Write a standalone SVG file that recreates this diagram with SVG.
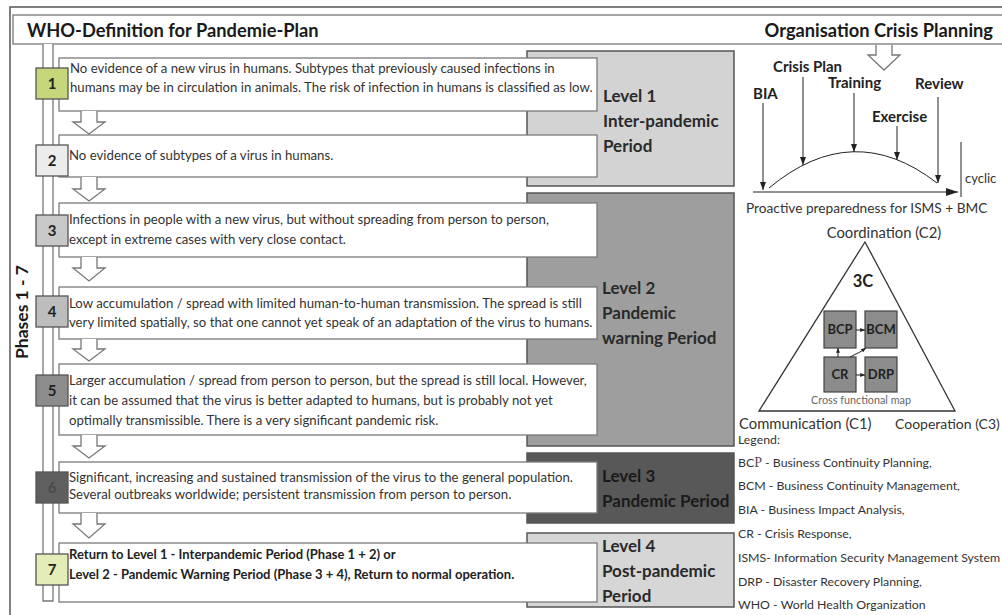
<svg xmlns="http://www.w3.org/2000/svg" width="1002" height="615" viewBox="0 0 1002 615">
<defs>
<style>
.frame{fill:none;stroke:#555;stroke-width:1.5}
.band{fill:#fff;stroke:#777;stroke-width:1.3}
.pipe{fill:#fff;stroke:#777;stroke-width:1.3}
.box{fill:#fff;stroke:#7a7a7a;stroke-width:1.3}
.sq{stroke:#555;stroke-width:1.3}
.lvl{stroke:#555;stroke-width:1.5}
.t{font-family:Lato,"Open Sans",sans-serif;font-size:13.2px;fill:#333}
.tb{font-family:Lato,"Open Sans",sans-serif;font-size:13px;font-weight:bold;fill:#222}
.num{font-family:Lato,"Open Sans",sans-serif;font-size:15px;font-weight:bold;fill:#222;text-anchor:middle}
.hd{font-family:Lato,"Open Sans",sans-serif;font-size:18.3px;font-weight:bold;fill:#1a1a1a}
.lv{font-family:Lato,"Open Sans",sans-serif;font-size:17px;font-weight:bold;fill:#2a2a2a}
.cp{font-family:Lato,"Open Sans",sans-serif;font-size:15px;font-weight:bold;fill:#222}
.rt{font-family:Lato,"Open Sans",sans-serif;font-size:14.8px;fill:#333}
.lg{font-family:Lato,"Open Sans",sans-serif;font-size:12.3px;fill:#333}
.blk{fill:#fff;stroke:#777;stroke-width:1.3}
.ln{fill:none;stroke:#222;stroke-width:1}
.c3{fill:#8c8c8c;stroke:#444;stroke-width:1.2}
.c3t{font-family:Lato,"Open Sans",sans-serif;font-size:13px;font-weight:bold;fill:#222;text-anchor:middle}
</style>
<marker id="ah" viewBox="0 0 8 6" refX="8" refY="3" markerWidth="8" markerHeight="6" markerUnits="userSpaceOnUse" orient="auto">
<path d="M0,0 L8,3 L0,6 z" fill="#222"/>
</marker>
<marker id="ahs" viewBox="0 0 6 5" refX="6" refY="2.5" markerWidth="5" markerHeight="4" markerUnits="userSpaceOnUse" orient="auto">
<path d="M0,0 L6,2.5 L0,5 z" fill="#222"/>
</marker>
<marker id="ahb" viewBox="0 0 12 8" refX="12" refY="4" markerWidth="12" markerHeight="8" markerUnits="userSpaceOnUse" orient="auto">
<path d="M0,0 L12,4 L0,8 z" fill="#222"/>
</marker>
</defs>
<rect width="1002" height="615" fill="#fff"/>

<g id="frame">
<path class="frame" d="M10,615 V7 H1002"/>
<rect class="band" x="13" y="15" width="1000" height="29"/>
<text class="hd" x="27" y="37">WHO-Definition for Pandemie-Plan</text>
<text class="hd" x="993" y="37" text-anchor="end">Organisation Crisis Planning</text>
<path class="pipe" d="M43,44 V601 H53 V44"/>
<text x="28" y="312" transform="rotate(-90 28 312)" class="hd" style="font-size:17.5px" text-anchor="middle">Phases 1 - 7</text>
</g>

<g id="levels">
<g id="level1"><rect class="lvl" x="527" y="51" width="207" height="135" fill="#d3d3d3"/>
<text class="lv" x="603" y="102">Level 1</text><text class="lv" x="603" y="127">Inter-pandemic</text><text class="lv" x="603" y="152">Period</text></g>
<g id="level2"><rect class="lvl" x="527" y="193" width="207" height="253" fill="#9e9e9e"/>
<text class="lv" x="602" y="294">Level 2</text><text class="lv" x="602" y="319">Pandemic</text><text class="lv" x="602" y="344">warning Period</text></g>
<g id="level3"><rect class="lvl" x="527" y="453" width="207" height="70" fill="#585858"/>
<text class="lv" x="602" y="482" style="fill:#1a1a1a">Level 3</text><text class="lv" x="602" y="507" style="fill:#1a1a1a">Pandemic Period</text></g>
<g id="level4"><rect class="lvl" x="527" y="533" width="207" height="74" fill="#d6d6d6"/>
<text class="lv" x="602" y="552">Level 4</text><text class="lv" x="602" y="577">Post-pandemic</text><text class="lv" x="602" y="602">Period</text></g>
</g>

<g id="phases">
<g id="phase1"><rect class="box" x="59" y="58" width="538" height="53"/>
<rect class="sq" x="36" y="68" width="32" height="31" fill="#c6d67a"/><text class="num" x="52" y="89">1</text>
<text class="t" x="70" y="73">No evidence of a new virus in humans. Subtypes that previously caused infections in</text>
<text class="t" x="70" y="92">humans may be in circulation in animals. The risk of infection in humans is classified as low.</text></g>
<g id="phase2"><rect class="box" x="59" y="135" width="538" height="42"/>
<rect class="sq" x="36" y="145" width="32" height="31" fill="#ececec"/><text class="num" x="52" y="166">2</text>
<text class="t" x="69" y="160">No evidence of subtypes of a virus in humans.</text></g>
<g id="phase3"><rect class="box" x="59" y="203" width="538" height="54"/>
<rect class="sq" x="36" y="215" width="32" height="31" fill="#c8c8c8"/><text class="num" x="52" y="236">3</text>
<text class="t" x="69" y="224">Infections in people with a new virus, but without spreading from person to person,</text>
<text class="t" x="69" y="244">except in extreme cases with very close contact.</text></g>
<g id="phase4"><rect class="box" x="59" y="287" width="538" height="52"/>
<rect class="sq" x="36" y="296" width="32" height="31" fill="#bdbdbd"/><text class="num" x="52" y="317">4</text>
<text class="t" x="69" y="308">Low accumulation / spread with limited human-to-human transmission. The spread is still</text>
<text class="t" x="69" y="327">very limited spatially, so that one cannot yet speak of an adaptation of the virus to humans.</text></g>
<g id="phase5"><rect class="box" x="59" y="364" width="538" height="71"/>
<rect class="sq" x="36" y="375" width="32" height="31" fill="#8c8c8c"/><text class="num" x="52" y="396">5</text>
<text class="t" x="69" y="385">Larger accumulation / spread from person to person, but the spread is still local. However,</text>
<text class="t" x="69" y="405">it can be assumed that the virus is better adapted to humans, but is probably not yet</text>
<text class="t" x="69" y="425">optimally transmissible. There is a very significant pandemic risk.</text></g>
<g id="phase6"><rect class="box" x="59" y="462" width="538" height="51"/>
<rect class="sq" x="36" y="472" width="32" height="31" fill="#5f5f5f"/><text class="num" x="52" y="493" style="fill:#4a4a4a">6</text>
<text class="t" x="69" y="482">Significant, increasing and sustained transmission of the virus to the general population.</text>
<text class="t" x="69" y="499">Several outbreaks worldwide; persistent transmission from person to person.</text></g>
<g id="phase7"><rect class="box" x="59" y="543" width="538" height="59"/>
<rect class="sq" x="36" y="554" width="32" height="31" fill="#e4edb8"/><text class="num" x="52" y="575">7</text>
<text class="tb" x="69" y="559">Return to Level 1 - Interpandemic Period (Phase 1 + 2) or</text>
<text class="tb" x="69" y="579">Level 2 - Pandemic Warning Period (Phase 3 + 4), Return to normal operation.</text></g>
</g>

<g id="crisis-labels">
<text class="cp" x="753" y="99">BIA</text>
<text class="cp" x="773" y="72">Crisis Plan</text>
<text class="cp" x="828" y="88">Training</text>
<text class="cp" x="915" y="89">Review</text>
<text class="cp" x="872" y="122">Exercise</text>
<text class="lg" x="965" y="183" style="font-size:13px">cyclic</text>
<text class="rt" x="746" y="213" style="font-size:13.7px">Proactive preparedness for ISMS + BMC</text>
</g>

<g id="triangle3c">
<text class="rt" x="884" y="238" text-anchor="middle">Coordination (C2)</text>
<path d="M865,242 L759,411 L955,411 Z" fill="none" stroke="#333" stroke-width="1.3"/>
<text class="c3t" x="863" y="287" style="font-size:16.5px">3C</text>
<text class="rt" x="739" y="429">Communication (C1)</text>
<text class="rt" x="895" y="429" style="font-size:14px">Cooperation (C3)</text>
<g id="bcp"><rect class="c3" x="824" y="311" width="32" height="37"/><text class="c3t" x="840" y="334">BCP</text></g>
<g id="bcm"><rect class="c3" x="865" y="311" width="32" height="37"/><text class="c3t" x="881" y="334">BCM</text></g>
<g id="cr"><rect class="c3" x="824" y="357" width="32" height="35"/><text class="c3t" x="840" y="379">CR</text></g>
<g id="drp"><rect class="c3" x="865" y="357" width="32" height="35"/><text class="c3t" x="881" y="379">DRP</text></g>
<text x="861" y="404" font-family="Lato,'Open Sans',sans-serif" font-size="10.8" fill="#666" text-anchor="middle">Cross functional map</text>
</g>

<g id="legend">
<text class="lg" x="738" y="444">Legend:</text>
<text class="lg" x="738" y="467">BC<tspan font-family="'Liberation Serif',serif" style="font-size:14px;fill:#5a4a5a">P</tspan> - Business Continuity Planning,</text>
<text class="lg" x="738" y="490">BCM - Business Continuity Management,</text>
<text class="lg" x="738" y="514">BIA - Business Impact Analysis,</text>
<text class="lg" x="738" y="538">CR - Crisis Response,</text>
<text class="lg" x="738" y="562">ISMS- Information Security Management System</text>
<text class="lg" x="738" y="586">DRP - Disaster Recovery Planning,</text>
<text class="lg" x="738" y="609">WHO - World Health Organization</text>
</g>

<g id="connectors">
<path class="blk" d="M81,111 V122 H73 L89,134 L105,122 H97 V111"/>
<path class="blk" d="M81,177 V189 H73 L89,201 L105,189 H97 V177"/>
<path class="blk" d="M81,257 V268 H73 L89,281 L105,268 H97 V257"/>
<path class="blk" d="M81,339 V349 H73 L89,361 L105,349 H97 V339"/>
<path class="blk" d="M81,435 V446 H73 L89,458 L105,446 H97 V435"/>
<path class="blk" d="M81,513 V524 H73 L89,538 L105,524 H97 V513"/>
<path class="blk" d="M876,45 V55 H868 L884,70 L900,55 H892 V45"/>
<path class="ln" d="M769,188 Q853,118 937,183"/>
<line class="ln" x1="753" y1="192" x2="958" y2="192" stroke-width="1.3" marker-end="url(#ahb)"/>
<line class="ln" x1="961" y1="142" x2="961" y2="197"/>
<line class="ln" x1="763" y1="103" x2="763" y2="190" marker-end="url(#ah)"/>
<line class="ln" x1="803" y1="77" x2="803" y2="165" marker-end="url(#ah)"/>
<line class="ln" x1="854" y1="93" x2="854" y2="152" marker-end="url(#ah)"/>
<line class="ln" x1="897" y1="126" x2="897" y2="160" marker-end="url(#ah)"/>
<line class="ln" x1="938" y1="97" x2="938" y2="183" marker-end="url(#ah)"/>
<line class="ln" x1="856" y1="330" x2="865" y2="330" marker-end="url(#ahs)"/>
<line class="ln" x1="856" y1="375" x2="865" y2="375" marker-end="url(#ahs)"/>
<line class="ln" x1="838" y1="357" x2="838" y2="348" marker-end="url(#ahs)"/>
<path class="ln" d="M850,357 L860,352 L866,348" marker-end="url(#ahs)"/>
</g>
</svg>
